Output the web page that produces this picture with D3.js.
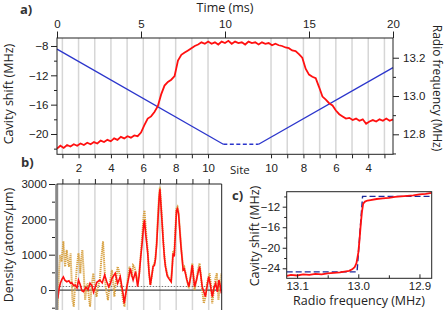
<!DOCTYPE html>
<html lang="en">
<head>
    <meta charset="UTF-8">
    <script src="https://d3js.org/d3.v7.min.js"></script>
    <title>Cavity shift vs time, density and RF scan</title>
    <style>
        body { margin: 0; background: #fff; }
        svg { font-family: "Open Sans", Arial, sans-serif; }
    </style>
</head>
<body>
    <div id="chart"></div>
    <script>
        // ---- panel a: cavity shift during the RF sweep ----
        const timeMs = [0, 0.2, 0.4, 0.6, 0.8, 1, 1.2, 1.4, 1.6, 1.8, 2, 2.2, 2.4, 2.6, 2.8, 3, 3.2, 3.4, 3.6, 3.8,
            4, 4.2, 4.4, 4.6, 4.8, 5, 5.2, 5.4, 5.6, 5.8, 6, 6.2, 6.4, 6.6, 6.8, 7, 7.2, 7.4, 7.6, 7.8,
            8, 8.2, 8.4, 8.6, 8.8, 9, 9.2, 9.4, 9.6, 9.8, 10, 10.2, 10.4, 10.6, 10.8, 11, 11.2, 11.4, 11.6, 11.8,
            12, 12.2, 12.4, 12.6, 12.8, 13, 13.2, 13.4, 13.6, 13.8, 14, 14.2, 14.4, 14.6, 14.8, 15, 15.2, 15.4, 15.6, 15.8,
            16, 16.2, 16.4, 16.6, 16.8, 17, 17.2, 17.4, 17.6, 17.8, 18, 18.2, 18.4, 18.6, 18.8, 19, 19.2, 19.4, 19.6, 19.8, 20];
        const cavityShift = [-22.0, -21.6, -21.9, -21.5, -21.7, -21.4, -21.6, -21.3, -21.5, -21.2, -21.4, -21.1, -21.3, -20.9, -21.1, -20.8, -21.0, -20.6, -20.8, -20.4,
            -20.6, -20.3, -20.5, -20.2, -20.3, -19.8, -18.8, -17.9, -17.6, -17.0, -16.2, -14.6, -13.4, -12.9, -12.6, -12.1, -10.0, -9.2, -8.9, -8.6,
            -8.3, -8.0, -7.8, -7.5, -7.7, -7.4, -7.7, -7.5, -7.8, -7.4, -7.6, -7.3, -7.7, -7.4, -7.6, -7.5, -7.8, -7.4, -7.6, -7.5,
            -7.8, -7.5, -7.7, -7.6, -7.9, -7.7, -7.9, -8.0, -8.2, -8.3, -8.6, -8.7, -9.1, -9.6, -11.1, -11.9, -12.2, -12.4, -13.6, -14.9,
            -15.3, -15.8, -16.1, -16.8, -17.3, -17.6, -17.9, -17.8, -18.1, -17.9, -18.2, -18.0, -18.6, -18.3, -18.1, -18.3, -18.0, -18.2, -17.9, -18.2, -18.0];

        // RF ramp (solid parts and the dashed hold)
        const rampTime = [0, 9.9, 12.0, 20];
        const rampRf = [13.245, 12.748, 12.748, 13.148];

        // lattice sites: time positions of the end sites of each half-sweep
        const leftSites = [1, 10];
        const leftSiteTime = [0.32, 8.99];
        const rightSites = [10, 3];
        const rightSiteTime = [12.74, 19.49];

        const timeTicks = [0, 5, 10, 15, 20];
        const shiftTicksA = [-20, -16, -12, -8];
        const shiftMinorA = [-22, -18, -14, -10];
        const rfTicks = [12.8, 13.0, 13.2];
        const rfMinor = [12.7, 12.9, 13.1];

        // ---- panel b: density per site ----
        const redSite = [0.72, 0.8, 0.88, 0.97, 1.06, 1.15, 1.27, 1.4, 1.5, 1.58, 1.7, 1.78, 1.9, 1.99, 2.1, 2.2, 2.3, 2.45, 2.58, 2.7,
            2.82, 2.92, 3.0, 3.12, 3.3, 3.45, 3.6, 3.72, 3.85, 3.95, 4.05, 4.25, 4.4, 4.56, 4.65, 4.73, 4.8, 4.88, 4.97, 5.08,
            5.18, 5.28, 5.35, 5.5, 5.63, 5.72, 5.82, 5.92, 6.0, 6.05, 6.12, 6.25, 6.33, 6.41, 6.5, 6.58, 6.66, 6.72, 6.8, 6.88,
            6.95, 7.0, 7.05, 7.12, 7.2, 7.28, 7.34, 7.45, 7.54, 7.69, 7.75, 7.81, 7.88, 7.95, 8.02, 8.08, 8.15, 8.22, 8.3, 8.43,
            8.5, 8.57, 8.65, 8.78, 8.9, 8.99, 9.06, 9.13, 9.25, 9.35, 9.44, 9.52, 9.6, 9.7, 9.8, 9.9, 10.0, 10.1, 10.22, 10.32,
            10.43, 10.53, 10.63, 10.72, 10.78];
        const redDensity = [-235, 50, 200, 300, 370, 280, 235, 260, 190, 207, 120, 142, 60, 283, 150, -20, -48, 80, 10, 190,
            120, -60, 48, 220, 283, 200, 425, 250, 94, 180, 331, 472, 190, 377, 120, -94, -377, -150, 94, 350,
            614, 400, 283, 520, 94, 400, 944, 1400, 1850, 1980, 1600, 1040, 500, 142, 400, 660, 700, 850, 1300, 2000,
            2600, 2860, 2500, 2000, 1400, 900, 660, 400, 330, 235, 600, 1040, 950, 1600, 2250, 2300, 2150, 1700, 1200, 567,
            600, 472, 300, 94, 400, 708, 400, 94, 283, 500, 660, 400, 94, -50, -190, 100, 377, 150, -190, 50,
            190, -50, 283, 100, -94];

        const goldSite = [0.7, 0.78, 0.86, 0.95, 1.06, 1.12, 1.17, 1.22, 1.27, 1.34, 1.41, 1.47, 1.5, 1.56, 1.62, 1.7, 1.76, 1.82, 1.9, 1.99,
            2.05, 2.1, 2.17, 2.23, 2.3, 2.4, 2.48, 2.56, 2.63, 2.7, 2.8, 2.9, 3.0, 3.1, 3.2, 3.3, 3.4, 3.5, 3.58, 3.66,
            3.73, 3.8, 3.92, 4.05, 4.12, 4.2, 4.3, 4.4, 4.5, 4.56, 4.65, 4.73, 4.82, 4.9, 4.97, 5.05, 5.13, 5.2, 5.27, 5.35,
            5.42, 5.52, 5.6, 5.72, 5.82, 5.92, 6.0, 6.05, 6.12, 6.25, 6.33, 6.41, 6.5, 6.58, 6.66, 6.72, 6.8, 6.88, 6.95, 7.0,
            7.05, 7.12, 7.2, 7.28, 7.34, 7.45, 7.54, 7.69, 7.75, 7.81, 7.88, 7.95, 8.02, 8.08, 8.15, 8.22, 8.3, 8.43, 8.5, 8.57,
            8.65, 8.78, 8.9, 8.99, 9.06, 9.13, 9.25, 9.35, 9.44, 9.52, 9.6, 9.7, 9.8, 9.9, 10.06, 10.15, 10.22, 10.32, 10.4, 10.5,
            10.6, 10.7, 10.78];
        const goldDensity = [-550, 400, 990, 800, 1380, 900, 660, 1000, 1133, 800, 660, 900, 1040, 400, -283, -470, 0, 283, 700, 1040,
            800, 472, 900, 1133, 600, -283, 100, 190, -200, -470, 100, 472, 100, -190, 100, 283, 900, 1380, 700, 94,
            -100, -283, 200, 566, 200, -190, 300, 660, 500, 283, 0, -283, -470, -100, 94, 400, 660, 500, 377, 700,
            660, 500, 283, 450, 1000, 1600, 2100, 2250, 1800, 1100, 500, 150, 400, 680, 750, 900, 1350, 2100, 2700, 2920,
            2550, 2050, 1450, 950, 700, 450, 350, 250, 650, 1100, 1000, 1700, 2300, 2350, 2200, 1750, 1250, 600, 650, 500,
            300, 50, 450, 755, 400, 0, 300, 600, 755, 400, 0, -377, -200, 200, 472, 100, -377, 0, 300, 472,
            -283, 200, 472];

        const densityTicks = [0, 1000, 2000, 3000];
        const densityMinor = [-500, 500, 1500, 2500];
        const siteTicksB = [1, 2, 3, 4, 5, 6, 7, 8, 9, 10];
        const baseLevel = 100;

        // ---- panel c: slow RF scan ----
        const scanRf = [13.117, 13.11, 13.1, 13.09, 13.08, 13.07, 13.06, 13.05, 13.04, 13.03, 13.02, 13.015, 13.01, 13.006, 13.003, 13.0,
            12.998, 12.996, 12.994, 12.992, 12.989, 12.985, 12.98, 12.97, 12.96, 12.95, 12.94, 12.93, 12.92, 12.91, 12.9, 12.89, 12.88];
        const scanShift = [-25.5, -25.3, -25.4, -25.2, -25.3, -25.1, -25.2, -25.0, -24.9, -24.8, -24.6, -24.5, -24.2, -23.8, -23.0, -21.0,
            -18.5, -15.5, -13.0, -11.4, -11.0, -10.8, -10.7, -10.5, -10.4, -10.3, -10.1, -10.0, -9.9, -9.8, -9.6, -9.5, -9.3];
        const fitRf = [13.117, 13.002, 12.993, 12.88];
        const fitShift = [-24.7, -24.7, -10.0, -10.0];

        const scanRfTicks = [13.1, 13.0, 12.9];
        const scanRfMinor = [13.05, 12.95];
        const shiftTicksC = [-24, -20, -16, -12];
        const shiftMinorC = [-22, -18, -14, -10];

        const RED = "#ff1010", BLUE = "#2b35cc", DARKBLUE = "#1c2a9a", GOLD = "#d8a243", GRID = "#d6d6d6";

        const svg = d3.select("#chart").append("svg")
            .attr("width", 445).attr("height", 310);

        function noDomain(g) { g.select(".domain").remove(); }
        function styleTicks(g, size) {
            g.selectAll("text").style("font-size", size + "px").attr("fill", "#222");
            g.selectAll("line").attr("stroke", "#222");
        }

        // ================= panel a =================
        const xa = d3.scaleLinear().domain([0, 20]).range([57, 393]);
        const ya = d3.scaleLinear().domain([-22.77, -6.91]).range([154.3, 38]);
        const yr = d3.scaleLinear().domain([12.6956, 13.303]).range([154.3, 38]);
        const siteL = d3.scaleLinear().domain(leftSites).range(leftSiteTime.map(xa));
        const siteR = d3.scaleLinear().domain(rightSites).range(rightSiteTime.map(xa));

        const ga = svg.append("g");

        // site grid lines
        ga.selectAll(".gl").data(d3.range(leftSites[0], leftSites[1] + 1)).enter().append("line")
            .attr("x1", d => siteL(d)).attr("x2", d => siteL(d))
            .attr("y1", 38).attr("y2", 154.3)
            .attr("stroke", GRID).attr("stroke-width", 1.5);
        ga.selectAll(".gr").data(d3.range(rightSites[1], rightSites[0] + 1)).enter().append("line")
            .attr("x1", d => siteR(d)).attr("x2", d => siteR(d))
            .attr("y1", 38).attr("y2", 154.3)
            .attr("stroke", GRID).attr("stroke-width", 1.5);

        // ramp
        const rampPts = rampTime.map((t, i) => [t, rampRf[i]]);
        const rampLine = d3.line().x(d => xa(d[0])).y(d => yr(d[1]));
        ga.append("path").attr("d", rampLine(rampPts.slice(0, 2)))
            .attr("fill", "none").attr("stroke", BLUE).attr("stroke-width", 1.3);
        ga.append("path").attr("d", rampLine(rampPts.slice(1, 3)))
            .attr("fill", "none").attr("stroke", BLUE).attr("stroke-width", 1.3)
            .attr("stroke-dasharray", "4,2.5");
        ga.append("path").attr("d", rampLine(rampPts.slice(2, 4)))
            .attr("fill", "none").attr("stroke", BLUE).attr("stroke-width", 1.3);

        // cavity shift trace
        ga.append("path")
            .attr("d", d3.line().x(d => xa(d[0])).y(d => ya(d[1]))(timeMs.map((t, i) => [t, cavityShift[i]])))
            .attr("fill", "none").attr("stroke", RED).attr("stroke-width", 1.8);

        // frame
        ga.append("rect").attr("x", 57).attr("y", 38).attr("width", 336).attr("height", 116.3)
            .attr("fill", "none").attr("stroke", "#222").attr("stroke-width", 1);

        // axes
        ga.append("g").attr("transform", "translate(0,38)")
            .call(d3.axisTop(xa).tickValues(timeTicks).tickSize(6.5).tickPadding(4))
            .call(noDomain).call(g => styleTicks(g, 11.5));
        ga.append("g").attr("transform", "translate(57,0)")
            .call(d3.axisLeft(ya).tickValues(shiftTicksA).tickSize(6).tickPadding(2.5))
            .call(noDomain).call(g => styleTicks(g, 11.5));
        ga.append("g").attr("transform", "translate(57,0)")
            .call(d3.axisLeft(ya).tickValues(shiftMinorA).tickSize(3).tickFormat(""))
            .call(noDomain).call(g => styleTicks(g, 11));
        ga.append("g").attr("transform", "translate(393,0)")
            .call(d3.axisRight(yr).tickValues(rfTicks).tickSize(6).tickPadding(4).tickFormat(d3.format(".1f")))
            .call(noDomain).call(g => styleTicks(g, 11.5));
        ga.append("g").attr("transform", "translate(393,0)")
            .call(d3.axisRight(yr).tickValues(rfMinor).tickSize(3).tickFormat(""))
            .call(noDomain).call(g => styleTicks(g, 11));
        ga.append("g").attr("transform", "translate(0,154.3)")
            .call(d3.axisBottom(siteL).tickValues(d3.range(leftSites[0], leftSites[1] + 1)).tickSize(4).tickPadding(6)
                .tickFormat(d => d % 2 === 0 ? d : ""))
            .call(noDomain).call(g => styleTicks(g, 11.5));
        ga.append("g").attr("transform", "translate(0,154.3)")
            .call(d3.axisBottom(siteR).tickValues(d3.range(rightSites[1], rightSites[0] + 1)).tickSize(4).tickPadding(6)
                .tickFormat(d => d % 2 === 0 ? d : ""))
            .call(noDomain).call(g => styleTicks(g, 11.5));

        ga.append("text").attr("x", 230).attr("y", 173.5).text("Site")
            .style("font-size", "11.5px").attr("fill", "#222");
        ga.append("text").attr("x", 225).attr("y", 11.5).attr("text-anchor", "middle")
            .style("font-size", "12.5px").attr("fill", "#222").text("Time (ms)");
        ga.append("text").attr("transform", "translate(13,94) rotate(-90)").attr("text-anchor", "middle")
            .style("font-size", "12.5px").attr("fill", "#222").text("Cavity shift (MHz)");
        ga.append("text").attr("transform", "translate(432.5,88) rotate(90)").attr("text-anchor", "middle")
            .style("font-size", "12px").attr("fill", "#222").text("Radio frequency (MHz)");
        ga.append("text").attr("x", 20).attr("y", 13.5).text("a)")
            .style("font-size", "13px").style("font-weight", "bold").attr("fill", "#333");

        // ================= panel b =================
        const xb = d3.scaleLinear().domain([0.65, 10.8]).range([56.7, 221.7]);
        const yb = d3.scaleLinear().domain([-500, 3000]).range([307.7, 184]);
        const gb = svg.append("g");

        gb.append("clipPath").attr("id", "clipb").append("rect")
            .attr("x", 56.7).attr("y", 184).attr("width", 165).attr("height", 126);

        gb.selectAll(".gb").data(siteTicksB).enter().append("line")
            .attr("x1", d => xb(d)).attr("x2", d => xb(d))
            .attr("y1", 184).attr("y2", 310)
            .attr("stroke", GRID).attr("stroke-width", 1.5);

        gb.append("line").attr("x1", 56.7).attr("x2", 221.7)
            .attr("y1", yb(0)).attr("y2", yb(0)).attr("stroke", "#444").attr("stroke-width", 1.3);
        gb.append("line").attr("x1", 56.7).attr("x2", 221.7)
            .attr("y1", yb(baseLevel)).attr("y2", yb(baseLevel)).attr("stroke", "#777")
            .attr("stroke-width", 1).attr("stroke-dasharray", "1.5,1.5");

        const lineB = d3.line().x(d => xb(d[0])).y(d => yb(d[1]));
        gb.append("path").attr("clip-path", "url(#clipb)")
            .attr("d", lineB(goldSite.map((s, i) => [s, goldDensity[i]])))
            .attr("fill", "none").attr("stroke", GOLD).attr("stroke-width", 2)
            .attr("stroke-dasharray", "1.2,0.8");
        gb.append("path").attr("clip-path", "url(#clipb)")
            .attr("d", lineB(redSite.map((s, i) => [s, redDensity[i]])))
            .attr("fill", "none").attr("stroke", RED).attr("stroke-width", 1.6);

        // frame: gray left axis, thin top and right
        gb.append("line").attr("x1", 56.7).attr("x2", 56.7).attr("y1", 184).attr("y2", 310)
            .attr("stroke", "#888").attr("stroke-width", 3);
        gb.append("line").attr("x1", 56.7).attr("x2", 221.7).attr("y1", 184).attr("y2", 184)
            .attr("stroke", "#222").attr("stroke-width", 1);
        gb.append("line").attr("x1", 221.7).attr("x2", 221.7).attr("y1", 184).attr("y2", 310)
            .attr("stroke", "#222").attr("stroke-width", 1);

        gb.append("g").attr("transform", "translate(0,184)")
            .call(d3.axisTop(xb).tickValues(siteTicksB).tickSize(5).tickFormat(""))
            .call(noDomain).call(g => styleTicks(g, 11));
        gb.append("g").attr("transform", "translate(55,0)")
            .call(d3.axisLeft(yb).tickValues(densityTicks).tickSize(6).tickPadding(2).tickFormat(d3.format("d")))
            .call(noDomain).call(g => styleTicks(g, 11.5));
        gb.append("g").attr("transform", "translate(55,0)")
            .call(d3.axisLeft(yb).tickValues(densityMinor).tickSize(3).tickFormat(""))
            .call(noDomain).call(g => styleTicks(g, 11));

        gb.append("text").attr("transform", "translate(13,245) rotate(-90)").attr("text-anchor", "middle")
            .style("font-size", "12.5px").attr("fill", "#222").text("Density (atoms/µm)");
        gb.append("text").attr("x", 21).attr("y", 167).text("b)")
            .style("font-size", "13px").style("font-weight", "bold").attr("fill", "#333");

        // ================= panel c =================
        const xc = d3.scaleLinear().domain([13.117, 12.88]).range([286.7, 431.7]);
        const yc = d3.scaleLinear().domain([-25.95, -9.08]).range([278.3, 191.7]);
        const gc = svg.append("g");

        gc.append("clipPath").attr("id", "clipc").append("rect")
            .attr("x", 286.7).attr("y", 191.7).attr("width", 145).attr("height", 86.6);

        const lineC = d3.line().x(d => xc(d[0])).y(d => yc(d[1]));
        gc.append("path").attr("clip-path", "url(#clipc)")
            .attr("d", lineC(fitRf.map((r, i) => [r, fitShift[i]])))
            .attr("fill", "none").attr("stroke", DARKBLUE).attr("stroke-width", 1.4)
            .attr("stroke-dasharray", "6,3");
        gc.append("path").attr("clip-path", "url(#clipc)")
            .attr("d", lineC(scanRf.map((r, i) => [r, scanShift[i]])))
            .attr("fill", "none").attr("stroke", RED).attr("stroke-width", 1.8);

        gc.append("rect").attr("x", 286.7).attr("y", 191.7).attr("width", 145).attr("height", 86.6)
            .attr("fill", "none").attr("stroke", "#222").attr("stroke-width", 1);

        gc.append("g").attr("transform", "translate(0,278.3)")
            .call(d3.axisBottom(xc).tickValues(scanRfTicks).tickSize(-4).tickPadding(4).tickFormat(d3.format(".1f")))
            .call(noDomain).call(g => styleTicks(g, 11.5));
        gc.append("g").attr("transform", "translate(0,278.3)")
            .call(d3.axisBottom(xc).tickValues(scanRfMinor).tickSize(-3).tickFormat(""))
            .call(noDomain).call(g => styleTicks(g, 11));
        gc.append("g").attr("transform", "translate(286.7,0)")
            .call(d3.axisLeft(yc).tickValues(shiftTicksC).tickSize(4).tickPadding(2.5))
            .call(noDomain).call(g => styleTicks(g, 11.5));
        gc.append("g").attr("transform", "translate(286.7,0)")
            .call(d3.axisLeft(yc).tickValues(shiftMinorC).tickSize(2.5).tickFormat(""))
            .call(noDomain).call(g => styleTicks(g, 11));

        gc.append("text").attr("transform", "translate(259,236) rotate(-90)").attr("text-anchor", "middle")
            .style("font-size", "12.5px").attr("fill", "#222").text("Cavity shift (MHz)");
        gc.append("text").attr("x", 359).attr("y", 305).attr("text-anchor", "middle")
            .style("font-size", "12.5px").attr("fill", "#222").text("Radio frequency (MHz)");
        gc.append("text").attr("x", 232).attr("y", 200).text("c)")
            .style("font-size", "13px").style("font-weight", "bold").attr("fill", "#333");
    </script>
</body>
</html>
